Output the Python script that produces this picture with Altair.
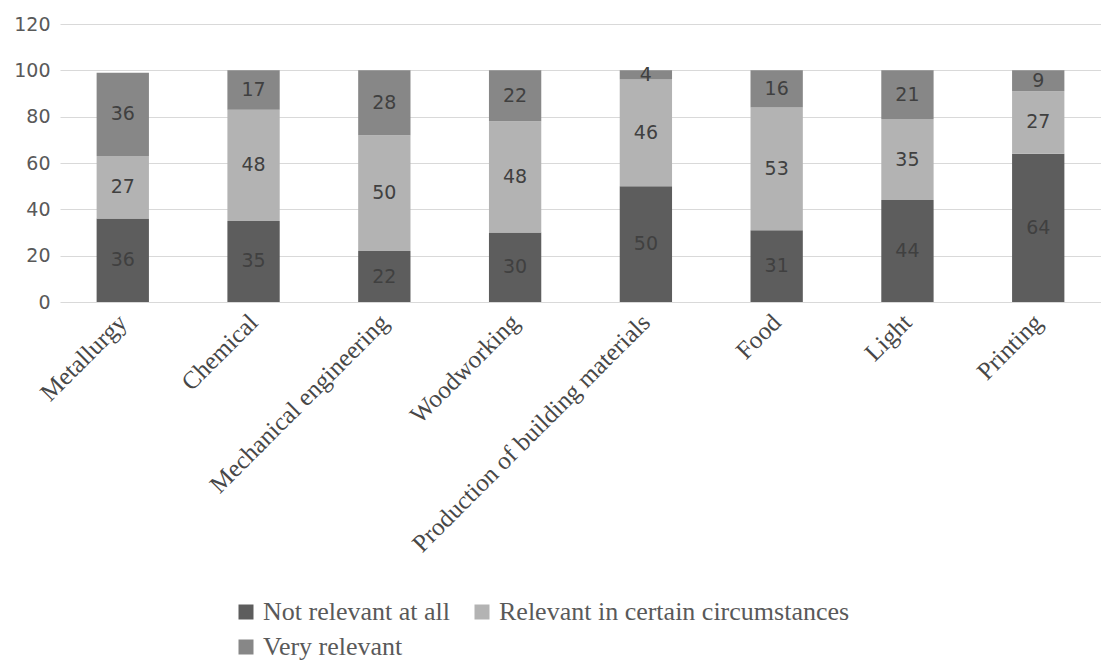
import altair as alt
import pandas as pd

# Industry sectors and answer shares (%)
categories = [
    "Metallurgy",
    "Chemical",
    "Mechanical engineering",
    "Woodworking",
    "Production of building materials",
    "Food",
    "Light",
    "Printing",
]
responses = [
    "Not relevant at all",
    "Relevant in certain circumstances",
    "Very relevant",
]
not_relevant = [36, 35, 22, 30, 50, 31, 44, 64]
in_certain = [27, 48, 50, 48, 46, 53, 35, 27]
very_relevant = [36, 17, 28, 22, 4, 16, 21, 9]
colors = ["#5d5d5d", "#b3b3b3", "#878787"]

series = [not_relevant, in_certain, very_relevant]
rows = []
for k, (resp, vals) in enumerate(zip(responses, series)):
    for cat, v in zip(categories, vals):
        rows.append({"category": cat, "response": resp, "value": v, "rank": k})
df = pd.DataFrame(rows)

x_enc = alt.X(
    "category:N",
    sort=categories,
    title=None,
    scale=alt.Scale(paddingInner=0.6, paddingOuter=0.28),
    axis=alt.Axis(
        labelAngle=-45,
        labelAlign="right",
        labelBaseline="middle",
        labelFont="Liberation Serif",
        labelFontSize=25,
        labelColor="#474747",
        labelPadding=16,
        labelLimit=0,
        labelOverlap=False,
        ticks=False,
        domain=False,
        grid=False,
    ),
)
y_scale = alt.Scale(domain=[0, 120], nice=False)

bars = alt.Chart(df).mark_bar().encode(
    x=x_enc,
    y=alt.Y(
        "value:Q",
        stack="zero",
        scale=y_scale,
        title=None,
        axis=alt.Axis(
            values=[0, 20, 40, 60, 80, 100, 120],
            labelFont="DejaVu Sans",
            labelFontSize=19,
            labelColor="#595959",
            labelPadding=10,
            ticks=False,
            domain=False,
            gridColor="#d9d9d9",
            gridWidth=1,
        ),
    ),
    color=alt.Color(
        "response:N",
        sort=responses,
        scale=alt.Scale(domain=responses, range=colors),
        legend=alt.Legend(
            title=None,
            orient="none",
            legendX=173,
            legendY=575,
            direction="horizontal",
            columns=2,
            padding=0,
            symbolType="square",
            symbolSize=225,
            symbolStrokeWidth=0,
            labelFont="Liberation Serif",
            labelFontSize=26,
            labelColor="#595959",
            labelOffset=4,
            labelLimit=0,
            columnPadding=19,
            rowPadding=9,
        ),
    ),
    order=alt.Order("rank:Q"),
)

labels = (
    alt.Chart(df)
    .transform_stack(
        stack="value",
        groupby=["category"],
        as_=["y0", "y1"],
        sort=[alt.SortField("rank", order="ascending")],
    )
    .transform_calculate(mid="(datum.y0 + datum.y1) / 2")
    .mark_text(font="DejaVu Sans", fontSize=19, color="#404040", baseline="middle")
    .encode(
        x=alt.X("category:N", sort=categories),
        y=alt.Y("mid:Q", scale=y_scale),
        text=alt.Text("value:Q"),
    )
)

chart = (
    alt.layer(bars, labels)
    .properties(
        width=1041,
        height=278,
        autosize=alt.AutoSizeParams(type="none"),
        padding={"left": 60, "top": 24, "right": 0, "bottom": 362},
        background="white",
    )
    .configure_view(stroke=None)
)

chart.save("out.html", embed_options={"renderer": "svg", "actions": False})
